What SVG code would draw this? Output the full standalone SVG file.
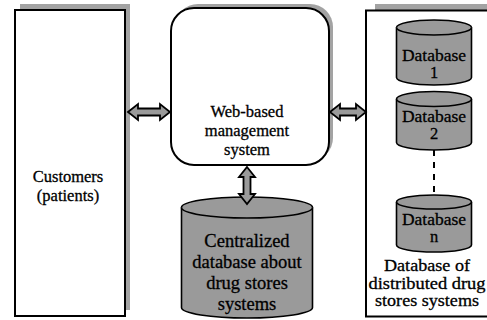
<svg xmlns="http://www.w3.org/2000/svg" width="487" height="320" viewBox="0 0 487 320">
<style>
  .shadow { fill: #a3a3a3; }
  .box { fill: #ffffff; stroke: #000000; stroke-width: 2; }
  .cyl { fill: #9a9a9a; stroke: #000000; stroke-width: 1.6; }
  .arrow { fill: #9a9a9a; stroke: #000000; stroke-width: 1.8; stroke-linejoin: miter; }
  text { font-family: 'Liberation Serif', 'DejaVu Serif', serif; fill: #000; text-anchor: middle; stroke: #000; stroke-width: 0.3; }
  .dash { stroke: #000; stroke-width: 2; stroke-dasharray: 6 6; fill: none; }
</style>
<rect width="487" height="320" fill="#ffffff"/>

<g id="customers">
  <rect class="shadow" x="20" y="4" width="110" height="306"/>
  <rect class="box" x="15" y="10" width="110" height="306"/>
  <text x="68" y="182" font-family="Liberation Serif" font-size="16.5">Customers</text>
  <text x="68" y="201" font-family="Liberation Serif" font-size="16.5">(patients)</text>
</g>

<g id="web-system">
  <rect class="shadow" x="175" y="4" width="158" height="157" rx="23"/>
  <rect class="box" x="171" y="8" width="158" height="157" rx="23"/>
  <text x="247" y="117" font-family="Liberation Serif" font-size="16.5">Web-based</text>
  <text x="247" y="136" font-family="Liberation Serif" font-size="16.5">management</text>
  <text x="247" y="155" font-family="Liberation Serif" font-size="16.5">system</text>
</g>

<g id="central-db">
  <path class="cyl" d="M181.5,207.5 L181.5,307.5 A65.5,10.5 0 0 0 312.5,307.5 L312.5,207.5 A65.5,10.5 0 0 0 181.5,207.5 Z"/>
  <path class="cyl" d="M181.5,207.5 A65.5,10.5 0 0 0 312.5,207.5" fill="none"/>
  <text x="247" y="247" font-family="Liberation Serif" font-size="18.5">Centralized</text>
  <text x="247" y="268" font-family="Liberation Serif" font-size="18.5">database about</text>
  <text x="247" y="289" font-family="Liberation Serif" font-size="18.5">drug stores</text>
  <text x="247" y="310" font-family="Liberation Serif" font-size="18.5">systems</text>
</g>

<g id="distributed">
  <rect class="shadow" x="375" y="4" width="120" height="306"/>
  <rect class="box" x="366" y="10.5" width="130" height="306"/>
  <text x="427" y="271" font-family="Liberation Serif" font-size="16.5" textLength="86" lengthAdjust="spacingAndGlyphs">Database of</text>
  <text x="427" y="288.5" font-family="Liberation Serif" font-size="16.5" textLength="117" lengthAdjust="spacingAndGlyphs">distributed drug</text>
  <text x="427" y="306" font-family="Liberation Serif" font-size="16.5" textLength="104" lengthAdjust="spacingAndGlyphs">stores systems</text>
</g>

<g id="db1">
  <path class="cyl" d="M396.5,27.5 L396.5,77.5 A37.5,7.5 0 0 0 471.5,77.5 L471.5,27.5 A37.5,7.5 0 0 0 396.5,27.5 Z"/>
  <path class="cyl" d="M396.5,27.5 A37.5,7.5 0 0 0 471.5,27.5" fill="none"/>
  <text x="434" y="60.5" font-family="Liberation Serif" font-size="16.5" textLength="64" lengthAdjust="spacingAndGlyphs">Database</text>
  <text x="434" y="78" font-family="Liberation Serif" font-size="16.5">1</text>
</g>

<g id="db2">
  <path class="cyl" d="M396.5,99 L396.5,142.5 A37.5,7.5 0 0 0 471.5,142.5 L471.5,99 A37.5,7.5 0 0 0 396.5,99 Z"/>
  <path class="cyl" d="M396.5,99 A37.5,7.5 0 0 0 471.5,99" fill="none"/>
  <text x="434" y="121.5" font-family="Liberation Serif" font-size="16.5" textLength="64" lengthAdjust="spacingAndGlyphs">Database</text>
  <text x="434" y="139" font-family="Liberation Serif" font-size="16.5">2</text>
</g>

<g id="dbn">
  <path class="cyl" d="M396.5,202 L396.5,245 A37.5,7 0 0 0 471.5,245 L471.5,202 A37.5,7 0 0 0 396.5,202 Z"/>
  <path class="cyl" d="M396.5,202 A37.5,7 0 0 0 471.5,202" fill="none"/>
  <text x="434" y="224.5" font-family="Liberation Serif" font-size="16.5" textLength="64" lengthAdjust="spacingAndGlyphs">Database</text>
  <text x="434" y="242" font-family="Liberation Serif" font-size="16.5">n</text>
</g>

<g id="connectors">
  <polygon class="arrow" points="128,112 138,104 138,108.5 160,108.5 160,104 170,112 160,120 160,115.5 138,115.5 138,120"/>
  <polygon class="arrow" points="330,112 340,104 340,108.5 356,108.5 356,104 366,112 356,120 356,115.5 340,115.5 340,120"/>
  <polygon class="arrow" points="247,167 255,177 250.5,177 250.5,194 255,194 247,204 239,194 243.5,194 243.5,177 239,177"/>
  <line class="dash" x1="434" y1="150" x2="434" y2="195"/>
</g>
</svg>
